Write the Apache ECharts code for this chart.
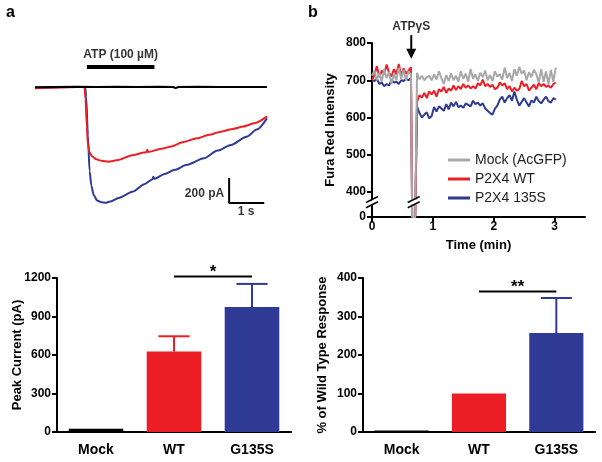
<!DOCTYPE html>
<html><head><meta charset="utf-8">
<script src="https://cdn.jsdelivr.net/npm/echarts@6/dist/echarts.min.js"></script>
<style>html,body{margin:0;padding:0;background:#fff}#c{width:602px;height:462px}</style>
</head><body><div id="c"></div>
<script>
// ---------- Panel a: whole-cell current traces (time in s, current in pA) ----------
const traceBlackT = [0, 0.6, 1.2, 1.8, 2.4, 3.0, 3.6, 4.05, 4.12, 4.2, 4.8, 5.4, 6.0, 6.8];
const traceBlackI = [-3, 0, 2, 0, 2, 0, 2, 0, -10, 0, 2, 0, 1, 0];
const traceRedT = [0, 0.5, 1.0, 1.45, 1.48, 1.52, 1.55, 1.60, 1.68, 1.80, 1.95, 2.15, 2.40, 2.88, 3.20, 3.26, 3.29, 3.32, 3.70, 4.00, 4.35, 4.75, 5.10, 5.45, 5.80, 6.10, 6.45, 6.80];
const traceRedI = [-10, -6, -2, 0, -100, -330, -480, -545, -580, -603, -615, -622, -610, -567, -545, -545, -522, -542, -515, -495, -458, -428, -398, -372, -350, -330, -300, -245];
const traceBlueT = [0, 0.5, 1.0, 1.47, 1.50, 1.55, 1.60, 1.65, 1.72, 1.82, 1.95, 2.06, 2.20, 2.45, 2.88, 3.20, 3.44, 3.47, 3.50, 3.80, 4.10, 4.45, 4.95, 5.35, 5.74, 6.20, 6.50, 6.80];
const traceBlueI = [-4, -2, 0, 0, -80, -400, -700, -820, -900, -945, -960, -965, -955, -925, -870, -810, -770, -748, -765, -725, -690, -648, -594, -530, -483, -414, -355, -261];
const atpPeriod = [1.52, 3.5];        // s
const scaleBarTime = 1;               // s
const scaleBarCurrent = 200;          // pA

// ---------- Panel b: Fura Red intensity ----------
const furaTime = [0,0.04,0.08,0.12,0.16,0.2,0.24,0.28,0.32,0.36,0.4,0.44,0.48,0.52,0.56,0.6,0.64,
  0.66,0.71,
  0.74,0.78,0.82,0.86,0.9,0.94,0.98,1.02,1.06,1.1,1.14,1.18,1.22,1.26,1.3,1.34,1.38,1.42,1.46,1.5,1.54,1.58,1.62,1.66,1.7,1.74,1.78,1.82,1.86,1.9,1.94,1.98,2.02,2.06,2.1,2.14,2.18,2.22,2.26,2.3,2.34,2.38,2.42,2.46,2.5,2.54,2.58,2.62,2.66,2.7,2.74,2.78,2.82,2.86,2.9,2.94,2.98,3.02];
const furaMock = [712,726,700,720,696,730,706,722,690,718,700,734,704,728,700,724,716,
  0,0,
  720,702,712,700,708,712,700,716,702,724,706,690,714,698,718,700,712,696,724,704,718,696,730,704,716,698,720,708,726,700,714,698,724,710,716,702,734,706,720,698,730,712,736,718,726,700,722,708,728,716,694,730,696,724,690,728,696,734];
const furaWT = [700,714,738,708,726,716,742,720,710,730,716,744,712,732,718,726,735,
  0,0,
  642,660,654,666,652,670,662,672,656,676,670,682,666,678,672,686,674,684,676,690,680,686,678,684,678,692,686,702,684,690,682,688,676,680,694,686,692,676,684,670,680,672,676,698,684,690,672,680,688,676,692,684,690,682,686,680,690,694];
const furaG135S = [700,698,704,690,694,684,690,686,700,694,696,690,700,698,704,700,706,
  0,0,
  630,612,600,608,614,598,604,628,616,630,624,618,636,622,640,630,642,628,632,626,638,634,630,645,636,640,632,638,624,618,612,608,624,632,648,656,640,652,660,645,670,648,632,642,652,640,630,646,640,656,644,638,648,656,644,640,652,648];
const furaNames = ['Mock (AcGFP)', 'P2X4 WT', 'P2X4 135S'];
const furaXTicks = [0, 1, 2, 3];
const furaYTicks = [0, 400, 500, 600, 700, 800];
const furaBreak = [33, 380];
const atpGammaSTime = 0.645;          // min

// ---------- Panels c, d: bar charts ----------
const barCategories = ['Mock', 'WT', 'G135S'];
const peakCurrent = [25, 628, 974];
const peakCurrentErr = [0, 118, 180];
const pctWT = [4, 100, 257];
const pctWTErr = [0, 0, 91];
const sigPeak = {from: 1, to: 2, level: 1212, text: '*'};
const sigPct = {from: 1, to: 2, level: 365, text: '**'};

const FONT = '"Liberation Sans", Arial, Helvetica, sans-serif';
const RED = '#EC1F26', BLUE = '#2E3A94', GRAY = '#A8A8A8', BLACK = '#000';
const barColors = [BLACK, RED, BLUE];

const chart = echarts.init(document.getElementById('c'), null, {renderer: 'canvas'});

function pairs(t, v) { return t.map((x, i) => [x, v[i]]); }

function barAxisY(gridIndex, max, interval, name, gap) {
  return {
    gridIndex, type: 'value', min: 0, max, interval,
    axisLine: {show: true, lineStyle: {color: BLACK, width: 2}},
    axisTick: {show: true, length: 5, lineStyle: {color: BLACK, width: 2}},
    axisLabel: {color: BLACK, fontFamily: FONT, fontWeight: 'bold', fontSize: 12, margin: 6,
      formatter: v => String(v)},
    splitLine: {show: false},
    name, nameLocation: 'middle', nameGap: gap, nameMoveOverlap: false,
    nameTextStyle: {color: BLACK, fontFamily: FONT, fontWeight: 'bold', fontSize: 13}
  };
}
function barAxisX(gridIndex) {
  return {
    gridIndex, type: 'category', data: barCategories,
    axisLine: {show: true, lineStyle: {color: BLACK, width: 2}},
    axisTick: {show: false},
    axisLabel: {color: BLACK, fontFamily: FONT, fontWeight: 'bold', fontSize: 14, margin: 11}
  };
}
function errorSeries(xi, yi, vals, errs) {
  return {
    type: 'custom', xAxisIndex: xi, yAxisIndex: yi, clip: false, silent: true,
    data: vals.map((v, i) => [i, v, errs[i]]),
    encode: {x: 0, y: 1},
    renderItem(params, api) {
      const i = api.value(0), v = api.value(1), e = api.value(2);
      if (!e) return null;
      const a = api.coord([i, v]), b = api.coord([i, v + e]);
      const half = api.size([1, 0])[0] * 0.2;
      const stroke = barColors[i];
      return {type: 'group', children: [
        {type: 'line', shape: {x1: a[0], y1: a[1], x2: b[0], y2: b[1]}, style: {stroke, lineWidth: 2}},
        {type: 'line', shape: {x1: b[0] - half, y1: b[1], x2: b[0] + half, y2: b[1]}, style: {stroke, lineWidth: 2}}
      ]};
    }
  };
}
function sigSeries(xi, yi, sig) {
  return {
    type: 'custom', xAxisIndex: xi, yAxisIndex: yi, clip: false, silent: true,
    data: [[sig.from, sig.level, sig.to]],
    encode: {x: 0, y: 1},
    renderItem(params, api) {
      const a = api.coord([api.value(0), api.value(1)]);
      const b = api.coord([api.value(2), api.value(1)]);
      return {type: 'group', children: [
        {type: 'line', shape: {x1: a[0], y1: a[1], x2: b[0], y2: b[1]}, style: {stroke: BLACK, lineWidth: 2}},
        {type: 'text', x: (a[0] + b[0]) / 2, y: a[1] + 4,
          style: {text: sig.text, fill: BLACK, font: 'bold 17px ' + FONT, align: 'center', verticalAlign: 'bottom'}}
      ]};
    }
  };
}
function textPoint(xi, yi, coord, text, position, distance) {
  return {
    type: 'scatter', xAxisIndex: xi, yAxisIndex: yi, clip: false, silent: true,
    symbolSize: 0, data: [coord],
    label: {show: true, position, distance, formatter: text, color: BLACK,
      fontFamily: FONT, fontWeight: 'bold', fontSize: 12}
  };
}

const option = {
  animation: false,
  backgroundColor: '#fff',
  textStyle: {fontFamily: FONT},
  grid: [
    {left: 35, width: 232, top: 45, height: 174},      // a
    {left: 372, width: 213, top: 43, height: 174},     // b
    {left: 57, width: 234, top: 278, height: 154},     // c
    {left: 363, width: 232, top: 278, height: 154}     // d
  ],
  xAxis: [
    {gridIndex: 0, type: 'value', min: 0, max: 6.8, show: false},
    {gridIndex: 1, type: 'value', min: 0, max: 3.5,
      axisLine: {show: true, onZero: false, lineStyle: {color: BLACK, width: 2}},
      axisTick: {show: true, length: 5, lineStyle: {color: BLACK, width: 2}, customValues: furaXTicks},
      axisLabel: {color: BLACK, fontFamily: FONT, fontWeight: 'bold', fontSize: 12, margin: 4, customValues: furaXTicks},
      splitLine: {show: false},
      name: 'Time (min)', nameLocation: 'middle', nameGap: 22,
      nameTextStyle: {color: BLACK, fontFamily: FONT, fontWeight: 'bold', fontSize: 13}},
    barAxisX(2),
    barAxisX(3)
  ],
  yAxis: [
    {gridIndex: 0, type: 'value', min: -1100, max: 350, show: false},
    {gridIndex: 1, type: 'value', min: 0, max: 800,
      breaks: [{start: furaBreak[0], end: furaBreak[1], gap: '3%'}],
      breakArea: {show: true, expandOnClick: false, zigzagAmplitude: 0, zigzagMinSpan: 4, zigzagMaxSpan: 8,
        itemStyle: {color: '#fff', borderColor: 'rgba(0,0,0,0)', borderWidth: 0, opacity: 1}},
      axisLine: {show: true, onZero: false, lineStyle: {color: BLACK, width: 2}},
      axisTick: {show: true, length: 5, lineStyle: {color: BLACK, width: 2}, customValues: furaYTicks},
      axisLabel: {color: BLACK, fontFamily: FONT, fontWeight: 'bold', fontSize: 12, margin: 6, customValues: furaYTicks},
      splitLine: {show: false},
      name: 'Fura Red Intensity', nameLocation: 'middle', nameGap: 35, nameMoveOverlap: false,
      nameTextStyle: {color: BLACK, fontFamily: FONT, fontWeight: 'bold', fontSize: 13}},
    barAxisY(2, 1200, 300, 'Peak Current (pA)', 33),
    barAxisY(3, 400, 100, '% of Wild Type Response', 34)
  ],
  legend: {
    orient: 'vertical', left: 448, top: 153, padding: 0, itemGap: 5, z: 300,
    itemWidth: 22, itemHeight: 3, icon: 'rect',
    data: furaNames,
    textStyle: {color: '#222', fontFamily: FONT, fontSize: 14}
  },
  series: [
    // panel a
    {type: 'line', xAxisIndex: 0, yAxisIndex: 0, data: pairs(traceBlueT, traceBlueI), showSymbol: false,
      smooth: 0.25, smoothMonotone: 'x', lineStyle: {color: BLUE, width: 2}, silent: true},
    {type: 'line', xAxisIndex: 0, yAxisIndex: 0, data: pairs(traceRedT, traceRedI), showSymbol: false,
      smooth: 0.25, smoothMonotone: 'x', lineStyle: {color: RED, width: 2}, silent: true},
    {type: 'line', xAxisIndex: 0, yAxisIndex: 0, data: pairs(traceBlackT, traceBlackI), showSymbol: false,
      lineStyle: {color: BLACK, width: 2}, silent: true},
    {type: 'line', xAxisIndex: 0, yAxisIndex: 0, clip: false, silent: true, showSymbol: false,
      data: [[atpPeriod[0], 167], [atpPeriod[1], 167]], lineStyle: {color: BLACK, width: 4}},
    textPoint(0, 0, [(atpPeriod[0] + atpPeriod[1]) / 2, 167], 'ATP (100 µM)', 'top', 6),
    {type: 'line', xAxisIndex: 0, yAxisIndex: 0, clip: false, silent: true, showSymbol: false,
      data: [[5.69, -967 + scaleBarCurrent], [5.69, -967], [5.69 + scaleBarTime, -967]],
      lineStyle: {color: BLACK, width: 2, cap: 'square'}},
    textPoint(0, 0, [5.69, -967 + scaleBarCurrent * 0.4], '200 pA', 'left', 5),
    textPoint(0, 0, [5.69 + scaleBarTime / 2, -967], '1 s', 'bottom', 3),
    // panel b
    {name: furaNames[2], type: 'line', xAxisIndex: 1, yAxisIndex: 1, data: pairs(furaTime, furaG135S),
      showSymbol: false, color: BLUE, lineStyle: {color: BLUE, width: 2}, silent: true},
    {name: furaNames[1], type: 'line', xAxisIndex: 1, yAxisIndex: 1, data: pairs(furaTime, furaWT),
      showSymbol: false, color: RED, lineStyle: {color: RED, width: 2}, silent: true},
    {name: furaNames[0], type: 'line', xAxisIndex: 1, yAxisIndex: 1, data: pairs(furaTime, furaMock),
      showSymbol: false, color: GRAY, lineStyle: {color: GRAY, width: 2}, silent: true, clip: false},
    {type: 'custom', xAxisIndex: 1, yAxisIndex: 1, clip: false, silent: true,
      data: [[atpGammaSTime, 821, 758]], encode: {x: 0, y: 1},
      renderItem(params, api) {
        const a = api.coord([api.value(0), api.value(1)]);
        const b = api.coord([api.value(0), api.value(2)]);
        return {type: 'group', children: [
          {type: 'line', shape: {x1: a[0], y1: a[1], x2: b[0], y2: b[1] - 8}, style: {stroke: BLACK, lineWidth: 2}},
          {type: 'polygon', shape: {points: [[b[0] - 5, b[1] - 10], [b[0] + 5, b[1] - 10], [b[0], b[1]]]}, style: {fill: BLACK}}
        ]};
      }},
    textPoint(1, 1, [atpGammaSTime, 843], 'ATPγS', 'inside', 0),
    // panel c
    {type: 'bar', xAxisIndex: 2, yAxisIndex: 2, barWidth: '70%', silent: true,
      data: peakCurrent.map((v, i) => ({value: v, itemStyle: {color: barColors[i]}}))},
    errorSeries(2, 2, peakCurrent, peakCurrentErr),
    sigSeries(2, 2, sigPeak),
    // panel d
    {type: 'bar', xAxisIndex: 3, yAxisIndex: 3, barWidth: '70%', silent: true,
      data: pctWT.map((v, i) => ({value: v, itemStyle: {color: barColors[i]}}))},
    errorSeries(3, 3, pctWT, pctWTErr),
    sigSeries(3, 3, sigPct)
  ],
  graphic: [
    {type: 'text', left: 6, top: 5, style: {text: 'a', font: 'bold 16px ' + FONT, fill: BLACK}},
    {type: 'text', left: 308, top: 5, style: {text: 'b', font: 'bold 16px ' + FONT, fill: BLACK}}
  ]
};
chart.setOption(option);

// axis-break slash marks ("//") on the y axis and across the stimulus spike
(function () {
  const pLow = chart.convertToPixel({xAxisIndex: 1, yAxisIndex: 1}, [0, furaBreak[0]]);
  const pHigh = chart.convertToPixel({xAxisIndex: 1, yAxisIndex: 1}, [0, furaBreak[1]]);
  const spike = chart.convertToPixel({xAxisIndex: 1, yAxisIndex: 1}, [0.685, 0]);
  const marks = [];
  [[pLow[0], 6], [spike[0], 6]].forEach(([x, h]) => {
    [pLow[1], pHigh[1]].forEach(y => {
      marks.push({type: 'line', silent: true, z: 500,
        shape: {x1: x - h, y1: y + 3, x2: x + h, y2: y - 3},
        style: {stroke: BLACK, lineWidth: 1.5}});
    });
  });
  chart.setOption({graphic: option.graphic.concat(marks)});
})();
</script>
</body></html>
